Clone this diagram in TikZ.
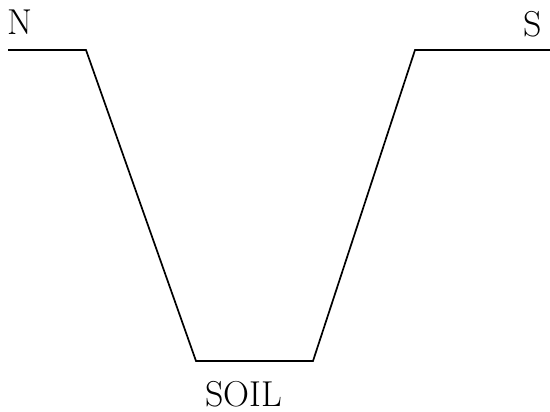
\documentclass[tikz,border=0pt]{standalone}
\usepackage{fontspec}
\begin{document}
\begin{tikzpicture}[x=1pt,y=-1pt,
  profile/.style={line width=1.7pt,line join=miter},
  lbl/.style={font=\fontsize{36}{40}\selectfont,inner sep=0pt,text depth=0pt}]
\useasboundingbox (0,0) rectangle (550,412);
\coordinate (a) at (8,50);
\coordinate (b) at (86,50);
\coordinate (c) at (196,361);
\coordinate (d) at (313,361);
\coordinate (e) at (415,50);
\coordinate (f) at (550,50);
\draw[profile] (a) -- (b) -- (c) -- (d) -- (e) -- (f);
\node[lbl,anchor=base] (n) at (20,35) {N};
\node[lbl,anchor=base] (s) at (533,37) {S};
\node[lbl,anchor=base] (soil) at (244,406) {SOIL};
\end{tikzpicture}
\end{document}
